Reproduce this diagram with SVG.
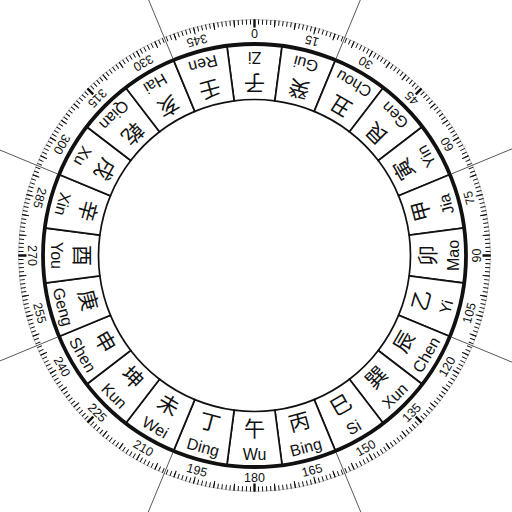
<svg xmlns="http://www.w3.org/2000/svg" xmlns:xlink="http://www.w3.org/1999/xlink" width="512" height="512" viewBox="0 0 512 512">
<style>
.cell{fill:#fff;stroke:#111;stroke-width:1.7}
.zh{font-family:"Noto Sans CJK SC","Noto Sans CJK TC",sans-serif;font-size:21px;fill:#111;text-anchor:middle;dominant-baseline:central}
.py{font-family:"Liberation Sans",Arial,sans-serif;font-size:16px;fill:#111;text-anchor:middle;dominant-baseline:central}
.num{font-family:"Liberation Sans",Arial,sans-serif;font-size:12.5px;fill:#111;text-anchor:middle;dominant-baseline:central}
.tick{fill:none;stroke:#111}
.ray{stroke:#444;stroke-width:0.8}
</style>
<defs>
<path id="sector" d="M -20.362 154.665 L -27.606 209.691 A 211.5 211.5 0 0 0 27.606 209.691 L 20.362 154.665 A 156 156 0 0 1 -20.362 154.665 Z"/>
</defs>
<rect width="512" height="512" fill="#fff"/>
<g transform="translate(254.5,255.5)">
<g id="scale">
<circle r="236" fill="none" stroke="#999" stroke-width="0.6"/>
<circle class="tick" r="233.5" stroke-width="5" pathLength="360" stroke-dasharray="0.24 0.76" stroke-dashoffset="0.12"/>
<circle class="tick" r="232.5" stroke-width="7" pathLength="360" stroke-dasharray="0.26 4.74" stroke-dashoffset="0.13"/>
<circle class="tick" r="232" stroke-width="8" pathLength="360" stroke-dasharray="0.6 44.4" stroke-dashoffset="0.3" stroke="#000"/>
<g class="num">
<text transform="rotate(180)" y="222.5">0</text>
<text transform="rotate(195)" y="222.5">15</text>
<text transform="rotate(210)" y="222.5">30</text>
<text transform="rotate(225)" y="222.5">45</text>
<text transform="rotate(240)" y="222.5">60</text>
<text transform="rotate(255)" y="222.5">75</text>
<text transform="rotate(270)" y="222.5">90</text>
<text transform="rotate(285)" y="222.5">105</text>
<text transform="rotate(300)" y="222.5">120</text>
<text transform="rotate(315)" y="222.5">135</text>
<text transform="rotate(330)" y="222.5">150</text>
<text transform="rotate(345)" y="222.5">165</text>
<text y="222.5">180</text>
<text transform="rotate(15)" y="222.5">195</text>
<text transform="rotate(30)" y="222.5">210</text>
<text transform="rotate(45)" y="222.5">225</text>
<text transform="rotate(60)" y="222.5">240</text>
<text transform="rotate(75)" y="222.5">255</text>
<text transform="rotate(90)" y="222.5">270</text>
<text transform="rotate(105)" y="222.5">285</text>
<text transform="rotate(120)" y="222.5">300</text>
<text transform="rotate(135)" y="222.5">315</text>
<text transform="rotate(150)" y="222.5">330</text>
<text transform="rotate(165)" y="222.5">345</text>
</g>
</g>
<g id="zi" transform="rotate(180)"><use xlink:href="#sector" class="cell"/><text class="zh" y="171">子</text><text class="py" y="198.5">Zi</text></g>
<g id="gui" transform="rotate(195)"><use xlink:href="#sector" class="cell"/><text class="zh" y="171">癸</text><text class="py" y="198.5">Gui</text></g>
<g id="chou" transform="rotate(210)"><use xlink:href="#sector" class="cell"/><text class="zh" y="171">丑</text><text class="py" y="198.5">Chou</text></g>
<g id="gen" transform="rotate(225)"><use xlink:href="#sector" class="cell"/><text class="zh" y="171">艮</text><text class="py" y="198.5">Gen</text></g>
<g id="yin" transform="rotate(240)"><use xlink:href="#sector" class="cell"/><text class="zh" y="171">寅</text><text class="py" y="198.5">Yin</text></g>
<g id="jia" transform="rotate(255)"><use xlink:href="#sector" class="cell"/><text class="zh" y="171">甲</text><text class="py" y="198.5">Jia</text></g>
<g id="mao" transform="rotate(270)"><use xlink:href="#sector" class="cell"/><text class="zh" y="171">卯</text><text class="py" y="198.5">Mao</text></g>
<g id="yi" transform="rotate(285)"><use xlink:href="#sector" class="cell"/><text class="zh" y="171">乙</text><text class="py" y="198.5">Yi</text></g>
<g id="chen" transform="rotate(300)"><use xlink:href="#sector" class="cell"/><text class="zh" y="171">辰</text><text class="py" y="198.5">Chen</text></g>
<g id="xun" transform="rotate(315)"><use xlink:href="#sector" class="cell"/><text class="zh" y="171">巽</text><text class="py" y="198.5">Xun</text></g>
<g id="si" transform="rotate(330)"><use xlink:href="#sector" class="cell"/><text class="zh" y="171">巳</text><text class="py" y="198.5">Si</text></g>
<g id="bing" transform="rotate(345)"><use xlink:href="#sector" class="cell"/><text class="zh" y="171">丙</text><text class="py" y="198.5">Bing</text></g>
<g id="wu"><use xlink:href="#sector" class="cell"/><text class="zh" y="171">午</text><text class="py" y="198.5">Wu</text></g>
<g id="ding" transform="rotate(15)"><use xlink:href="#sector" class="cell"/><text class="zh" y="171">丁</text><text class="py" y="198.5">Ding</text></g>
<g id="wei" transform="rotate(30)"><use xlink:href="#sector" class="cell"/><text class="zh" y="171">未</text><text class="py" y="198.5">Wei</text></g>
<g id="kun" transform="rotate(45)"><use xlink:href="#sector" class="cell"/><text class="zh" y="171">坤</text><text class="py" y="198.5">Kun</text></g>
<g id="shen" transform="rotate(60)"><use xlink:href="#sector" class="cell"/><text class="zh" y="171">申</text><text class="py" y="198.5">Shen</text></g>
<g id="geng" transform="rotate(75)"><use xlink:href="#sector" class="cell"/><text class="zh" y="171">庚</text><text class="py" y="198.5">Geng</text></g>
<g id="you" transform="rotate(90)"><use xlink:href="#sector" class="cell"/><text class="zh" y="171">酉</text><text class="py" y="198.5">You</text></g>
<g id="xin" transform="rotate(105)"><use xlink:href="#sector" class="cell"/><text class="zh" y="171">辛</text><text class="py" y="198.5">Xin</text></g>
<g id="xu" transform="rotate(120)"><use xlink:href="#sector" class="cell"/><text class="zh" y="171">戌</text><text class="py" y="198.5">Xu</text></g>
<g id="qian" transform="rotate(135)"><use xlink:href="#sector" class="cell"/><text class="zh" y="171">乾</text><text class="py" y="198.5">Qian</text></g>
<g id="hai" transform="rotate(150)"><use xlink:href="#sector" class="cell"/><text class="zh" y="171">亥</text><text class="py" y="198.5">Hai</text></g>
<g id="ren" transform="rotate(165)"><use xlink:href="#sector" class="cell"/><text class="zh" y="171">壬</text><text class="py" y="198.5">Ren</text></g>
<circle r="211.5" fill="none" stroke="#111" stroke-width="3.8"/>
<g id="connectors" class="ray">
<line y1="213" y2="380" transform="rotate(22.5)"/>
<line y1="213" y2="380" transform="rotate(67.5)"/>
<line y1="213" y2="380" transform="rotate(112.5)"/>
<line y1="213" y2="380" transform="rotate(157.5)"/>
<line y1="213" y2="380" transform="rotate(202.5)"/>
<line y1="213" y2="380" transform="rotate(247.5)"/>
<line y1="213" y2="380" transform="rotate(292.5)"/>
<line y1="213" y2="380" transform="rotate(337.5)"/>
</g>
</g>
</svg>
